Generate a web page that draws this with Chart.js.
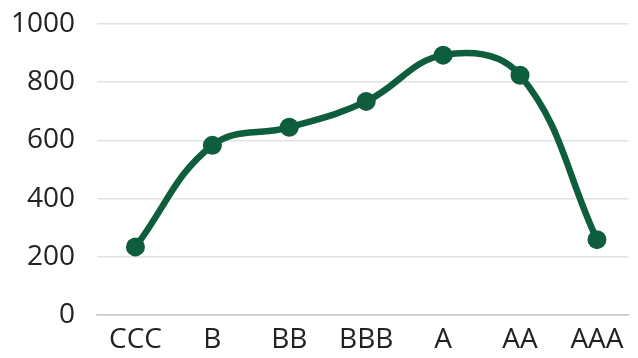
<!DOCTYPE html>
<html>
<head>
<meta charset="utf-8">
<script src="https://cdn.jsdelivr.net/npm/chart.js@4/dist/chart.umd.min.js"></script>
<style>
  html, body { margin: 0; padding: 0; background: #fff; overflow: hidden; }
  #wrap { width: 638px; height: 358px; }
</style>
</head>
<body>
<div id="wrap"><canvas id="c"></canvas></div>
<script>
// Rating grades along the x axis
const categories = ['CCC', 'B', 'BB', 'BBB', 'A', 'AA', 'AAA'];
// Value per grade
const values = [234, 583, 645, 734, 893, 824, 259];
// Y axis range and step
const yMin = 0;
const yMax = 1000;
const yStep = 200;

const green = '#0e5d3d';

// One point per grade, placed at the grade's index on the x axis
const points = categories.map((c, i) => ({ x: i, y: values[i] }));

new Chart(document.getElementById('c'), {
  type: 'line',
  data: {
    datasets: [{
      data: points,
      borderColor: green,
      backgroundColor: green,
      borderWidth: 6.5,
      pointRadius: 9.5,
      pointHoverRadius: 9.5,
      pointBackgroundColor: green,
      pointBorderColor: green,
      pointBorderWidth: 0,
      tension: 0.4,
      cubicInterpolationMode: 'default',
      fill: false
    }]
  },
  options: {
    responsive: true,
    maintainAspectRatio: false,
    animation: false,
    events: [],
    layout: { padding: { top: 24, right: 0, bottom: 0, left: 0 } },
    plugins: { legend: { display: false }, tooltip: { enabled: false } },
    scales: {
      x: {
        type: 'linear',
        min: -0.5,
        max: 6.41,
        grid: { display: false, drawTicks: false },
        border: { display: true, color: '#c8c8c8', width: 1.5 },
        ticks: {
          color: '#222',
          padding: 8,
          autoSkip: false,
          maxRotation: 0,
          font: { family: 'Open Sans', size: 28 },
          callback: v => categories[v]
        },
        afterBuildTicks: s => { s.ticks = categories.map((c, i) => ({ value: i })); },
        afterFit: s => { s.height = 43; s.paddingLeft = 0; s.paddingRight = 0; }
      },
      y: {
        min: yMin,
        max: yMax,
        grid: { color: '#e2e2e2', lineWidth: 1.5, drawTicks: false },
        border: { display: false },
        ticks: {
          stepSize: yStep,
          color: '#222',
          padding: 22,
          font: { family: 'Open Sans', size: 28 },
          callback: v => String(v)
        },
        afterFit: s => { s.width = 97; s.paddingTop = 0; s.paddingBottom = 0; }
      }
    }
  }
});
</script>
</body>
</html>
